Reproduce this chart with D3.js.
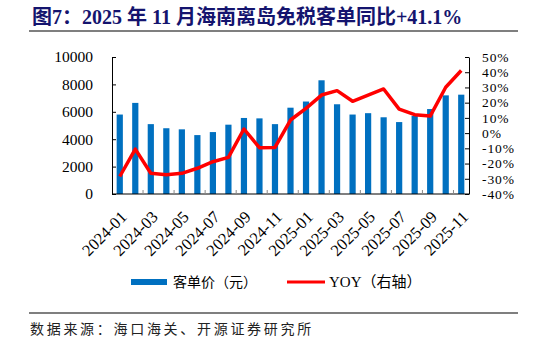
<!DOCTYPE html>
<html>
<head>
<meta charset="utf-8">
<script src="https://cdn.jsdelivr.net/npm/d3@7"></script>
<style>
  body { margin: 0; background: #fff; }
  svg { display: block; }
</style>
</head>
<body>
<svg id="chart" width="546" height="342"></svg>
<script>
// months on the x axis
const months = [
  "2024-01", "2024-02", "2024-03", "2024-04", "2024-05", "2024-06",
  "2024-07", "2024-08", "2024-09", "2024-10", "2024-11", "2024-12",
  "2025-01", "2025-02", "2025-03", "2025-04", "2025-05", "2025-06",
  "2025-07", "2025-08", "2025-09", "2025-10", "2025-11"
];
// 客单价（元）
const price = [
  5800, 6650, 5100, 4800, 4720, 4300, 4520, 5060, 5550, 5520, 5100, 6300,
  6750, 8300, 6550, 5800, 5900, 5600, 5250, 5700, 6200, 7200, 7250
];
// YOY, %
const yoy = [
  -28.5, -10.5, -26.4, -27.3, -26.4, -23.1, -18.8, -15.9, 2.7, -9.6, -9.4, 8.6,
  16.3, 25.0, 27.9, 20.9, 25.0, 29.0, 15.8, 12.1, 11.2, 30.1, 41.1
];
const leftTicks = [0, 2000, 4000, 6000, 8000, 10000];
const rightTicks = [-40, -30, -20, -10, 0, 10, 20, 30, 40, 50];

const svg = d3.select("#chart");
const serif = "'Liberation Serif', 'Times New Roman', 'Noto Sans CJK SC', serif";
const cjk = "'Noto Sans CJK SC', sans-serif";

const plotL = 112, plotR = 469, plotT = 57, plotB = 194;

const x = d3.scaleBand().domain(months).range([plotL, plotR])
  .paddingInner(0.6).paddingOuter(0.3);
const yL = d3.scaleLinear().domain([0, 10000]).range([plotB, plotT]);
const yR = d3.scaleLinear().domain([-40, 50]).range([plotB, plotT]);

// title
svg.append("text")
  .attr("x", 32).attr("y", 24)
  .attr("font-family", serif)
  .attr("font-weight", "bold")
  .attr("font-size", 20)
  .attr("fill", "#14146e")
  .text("图7：2025 年 11 月海南离岛免税客单同比+41.1%");
svg.append("line")
  .attr("x1", 29).attr("x2", 518).attr("y1", 31).attr("y2", 31)
  .attr("stroke", "#7f7f7f").attr("stroke-width", 2);

// bars
svg.append("g").selectAll("rect")
  .data(months)
  .enter().append("rect")
  .attr("x", (d) => x(d))
  .attr("width", x.bandwidth())
  .attr("y", (d, i) => yL(price[i]))
  .attr("height", (d, i) => yL(0) - yL(price[i]))
  .attr("fill", "#0070c0");

// left axis
const axL = svg.append("g")
  .attr("transform", `translate(${plotL},0)`)
  .call(d3.axisLeft(yL).tickValues(leftTicks).tickSizeInner(-4).tickSizeOuter(0)
    .tickPadding(19).tickFormat(d3.format("d")));
axL.select(".domain").attr("stroke", "#000");
axL.selectAll(".tick line").attr("stroke", "#000");
axL.selectAll("text").attr("font-family", serif).attr("font-size", 15.5).attr("fill", "#000");

// right axis (tight spacing, so a slightly smaller font)
const axR = svg.append("g")
  .attr("transform", `translate(${plotR},0)`)
  .call(d3.axisRight(yR).tickValues(rightTicks).tickSizeInner(-4).tickSizeOuter(0)
    .tickPadding(13).tickFormat((d) => d + "%"));
axR.select(".domain").attr("stroke", "#000");
axR.selectAll(".tick line").attr("stroke", "#000");
axR.selectAll("text").attr("font-family", serif).attr("font-size", 13.5)
  .attr("letter-spacing", 0.9).attr("fill", "#000");

// bottom axis line + small ticks every two months
const gap = (x.step() - x.bandwidth()) / 2;
svg.append("line")
  .attr("x1", plotL).attr("x2", plotR).attr("y1", plotB).attr("y2", plotB)
  .attr("stroke", "#000").attr("stroke-width", 1.2);
svg.append("g").selectAll("line")
  .data(months.filter((d, i) => i > 0 && i % 2 === 0))
  .enter().append("line")
  .attr("x1", (d) => x(d) - gap).attr("x2", (d) => x(d) - gap)
  .attr("y1", plotB).attr("y2", plotB - 4)
  .attr("stroke", "#888");

svg.append("g").selectAll("text")
  .data(months.filter((d, i) => i % 2 === 0))
  .enter().append("text")
  .attr("transform", (d) => `translate(${x(d) + x.bandwidth() / 2 + 8},${plotB + 24}) rotate(-45)`)
  .attr("text-anchor", "end")
  .attr("font-family", serif)
  .attr("font-size", 16.5)
  .text((d) => d);

// YOY line
const line = d3.line()
  .x((d, i) => x(months[i]) + x.bandwidth() / 2)
  .y((d) => yR(d));
svg.append("path")
  .datum(yoy)
  .attr("d", line)
  .attr("fill", "none")
  .attr("stroke", "#ff0000")
  .attr("stroke-width", 3.5)
  .attr("stroke-linejoin", "round");

// legend
const lg = svg.append("g");
lg.append("rect").attr("x", 131).attr("y", 279).attr("width", 36).attr("height", 6).attr("fill", "#0070c0");
lg.append("text").attr("x", 173).attr("y", 287)
  .attr("font-family", cjk).attr("font-size", 14).text("客单价（元）");
lg.append("line").attr("x1", 287).attr("x2", 325).attr("y1", 282).attr("y2", 282)
  .attr("stroke", "#ff0000").attr("stroke-width", 3);
lg.append("text").attr("x", 329).attr("y", 287)
  .attr("font-family", serif).attr("font-size", 15).text("YOY（右轴）");

// source
svg.append("line")
  .attr("x1", 29).attr("x2", 518).attr("y1", 313).attr("y2", 313)
  .attr("stroke", "#7f7f7f").attr("stroke-width", 2);
svg.append("text")
  .attr("x", 30).attr("y", 334)
  .attr("font-family", cjk).attr("font-size", 14)
  .attr("letter-spacing", 2.7)
  .attr("fill", "#222")
  .text("数据来源：海口海关、开源证券研究所");
</script>
</body>
</html>
